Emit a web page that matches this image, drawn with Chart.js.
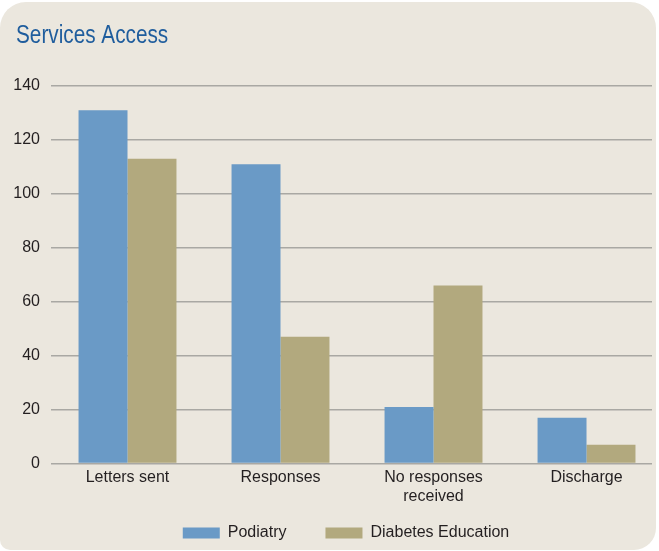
<!DOCTYPE html>
<html>
<head>
<meta charset="utf-8">
<script src="https://cdn.jsdelivr.net/npm/chart.js@4"></script>
<style>
  html, body { margin: 0; padding: 0; background: #ffffff; }
  #panel {
    position: absolute; left: 0; top: 2px; width: 656px; height: 548px;
    background: #ebe7de;
    border-radius: 26px 26px 22px 10px;
  }
  #wrap { position: absolute; left: 0; top: 0; width: 659px; height: 551px; }
</style>
</head>
<body>
<div id="panel"></div>
<div id="wrap"><canvas id="accessChart"></canvas></div>
<script>
const chartTitle = "Services Access";
const categories = ["Letters sent", "Responses", ["No responses", "received"], "Discharge"];
const podiatry = [131, 111, 21, 17];
const diabetesEducation = [113, 47, 66, 7];
const yTicks = [0, 20, 40, 60, 80, 100, 120, 140];

const fontFamily = "'Liberation Sans', Arial, sans-serif";

// titre condensé (police étroite dans l'original)
const condensedTitle = {
  id: "condensedTitle",
  afterDraw(chart) {
    const c = chart.ctx;
    c.save();
    c.fillStyle = "#1f5d9d";
    c.font = "25px " + fontFamily;
    c.textBaseline = "alphabetic";
    c.translate(16, 43);
    c.scale(0.83, 1);
    c.fillText(chartTitle, 0, 0);
    c.restore();
  }
};

// légende déplacée : un peu à droite, et remontée sous les libellés
const shiftLegend = {
  id: "shiftLegend",
  afterLayout(chart) {
    const lg = chart.legend;
    lg.left += 20;
    lg.right += 20;
    lg.top -= 20.5;
    lg.bottom -= 20.5;
  }
};

const toPoints = values => values.map((v, i) => ({ x: i, y: v }));

const ctx = document.getElementById("accessChart").getContext("2d");
const accessChart = new Chart(ctx, {
  type: "bar",
  data: {
    datasets: [
      {
        label: "Podiatry",
        data: toPoints(podiatry),
        backgroundColor: "#6a9ac6",
        categoryPercentage: 0.64,
        barPercentage: 1.0
      },
      {
        label: "Diabetes Education",
        data: toPoints(diabetesEducation),
        backgroundColor: "#b2a97e",
        categoryPercentage: 0.64,
        barPercentage: 1.0
      }
    ]
  },
  options: {
    responsive: true,
    maintainAspectRatio: false,
    animation: false,
    layout: { padding: { left: 0, right: 7, top: 86, bottom: -20.5 } },
    plugins: {
      title: { display: false },
      legend: {
        position: "bottom",
        labels: {
          boxWidth: 37,
          boxHeight: 11,
          padding: 39,
          color: "#231f20",
          font: { family: fontFamily, size: 16 }
        }
      },
      tooltip: { enabled: false }
    },
    scales: {
      x: {
        type: "linear",
        min: -0.5,
        max: 3.428,
        offset: false,
        afterBuildTicks: scale => { scale.ticks = categories.map((c, i) => ({ value: i })); },
        grid: { display: false, drawTicks: false },
        border: { display: false },
        ticks: {
          color: "#231f20",
          padding: 4,
          autoSkip: false,
          maxRotation: 0,
          font: { family: fontFamily, size: 16 },
          callback: value => categories[value]
        },
        afterFit: scale => { scale.height = 43; }
      },
      y: {
        min: 0,
        max: 140,
        afterBuildTicks: scale => { scale.ticks = yTicks.map(v => ({ value: v })); },
        grid: { color: "#a9a8a3", lineWidth: 1.5, drawTicks: false },
        border: { display: false },
        ticks: {
          color: "#231f20",
          padding: 11,
          font: { family: fontFamily, size: 16 }
        },
        afterFit: scale => { scale.width = 51; }
      }
    }
  },
  plugins: [condensedTitle, shiftLegend]
});
</script>
</body>
</html>
